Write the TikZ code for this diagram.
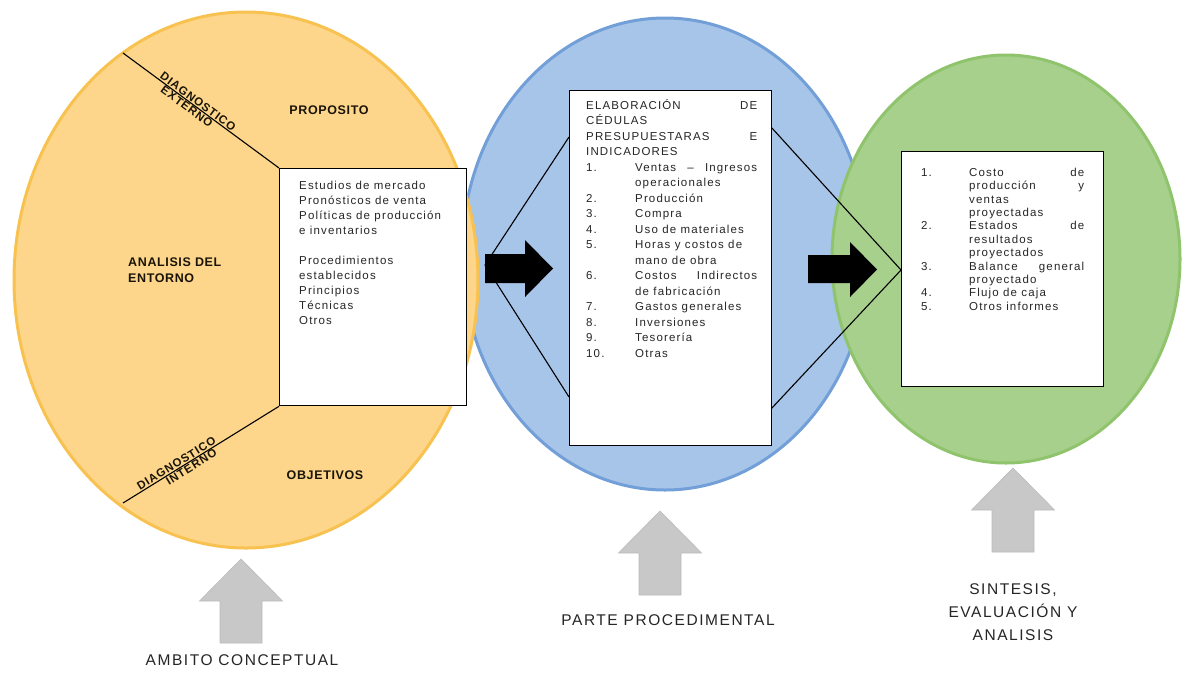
\documentclass[tikz,border=0pt]{standalone}
\usepackage{fontspec}
\setmainfont{Liberation Sans}
\newfontfamily\bodyfont[LetterSpace=10]{Liberation Sans}
\newfontfamily\labfont[LetterSpace=5]{Liberation Sans}
\newfontfamily\diagfont[LetterSpace=8]{Liberation Sans}
\newfontfamily\capfont[LetterSpace=10]{Liberation Sans}
\usetikzlibrary{shapes.geometric}

\definecolor{orfill}{HTML}{FDD68B}
\definecolor{oredge}{HTML}{F7C250}
\definecolor{blfill}{HTML}{A7C5E8}
\definecolor{bledge}{HTML}{729FD8}
\definecolor{grfill}{HTML}{A8D08D}
\definecolor{gredge}{HTML}{8FC46D}
\definecolor{arrgray}{HTML}{C8C8C8}
\definecolor{arredge}{HTML}{BBBBBB}
\definecolor{txt}{HTML}{262626}
\definecolor{labtxt}{HTML}{1A1408}

% item rows: number column + text column
\newcommand\blitem[2]{\makebox[49pt][l]{#1}\hbox to 122pt{#2\hfil}}
\newcommand\gritem[2]{\makebox[48pt][l]{#1}\hbox to 115pt{#2\hfil}}

\begin{document}
\begin{tikzpicture}[x=1pt,y=-1pt,
  blob/.style={ellipse, inner sep=0pt, line width=3pt},
  boxnode/.style={draw=black, fill=white, line width=1.3pt, inner sep=0pt, anchor=north west},
  bodytext/.style={anchor=north west, inner sep=0pt, align=left, text=txt,
    font=\bodyfont\fontsize{11.5}{15}\selectfont},
  boldlab/.style={inner sep=0pt, text=labtxt, font=\labfont\bfseries\fontsize{12.5}{16}\selectfont},
  diaglab/.style={inner sep=0.8pt, sloped, text=labtxt, font=\diagfont\bfseries\fontsize{11.5}{13}\selectfont},
  caplab/.style={inner sep=0pt, align=center, text=txt, font=\capfont\fontsize{15.5}{23}\selectfont},
  thinline/.style={draw=black, line width=1.1pt},
  darrow/.style={fill=black},
  uparr/.pic={\filldraw[fill=arrgray, draw=arredge, line width=0.6pt]
    (0,0) -- (41.5,42) -- (21,42) -- (21,84) -- (-21,84) -- (-21,42) -- (-41.5,42) -- cycle;}
]
\useasboundingbox (0,0) rectangle (1182,673);
\fill[white] (0,0) rectangle (1182,673);

% the three stages
\node[blob, fill=blfill, draw=bledge, minimum width=406pt, minimum height=472pt] (stage2) at (665,254) {};
\node[blob, fill=orfill, draw=oredge, minimum width=464pt, minimum height=536pt] (stage1) at (246,280) {};
\node[blob, fill=grfill, draw=gredge, minimum width=348pt, minimum height=408pt] (stage3) at (1006,259) {};

% chevron guides around the middle box
\coordinate (lt) at (569,137);
\coordinate (ltip) at (485,265);
\coordinate (lb) at (569,397);
\coordinate (rt) at (771,127);
\coordinate (rtip) at (901,270);
\coordinate (rb) at (771,409);
\draw[thinline] (lt) -- (ltip) -- (lb);
\draw[thinline] (rt) -- (rtip) -- (rb);

% boxes
\node[boxnode, minimum width=187pt, minimum height=237pt] (ob) at (279,168) {};
\node[boxnode, minimum width=202pt, minimum height=355pt] (bb) at (569,90) {};
\node[boxnode, minimum width=202pt, minimum height=235pt] (gb) at (901,151) {};

% diagnostic dividers
\coordinate (ulstart) at (123,53);
\coordinate (llend) at (123,503);
\draw[thinline] (ulstart) -- (ob.north west)
  node[diaglab, pos=0.46, above] (dx1) {DIAGNOSTICO}
  node[diaglab, pos=0.43, below] (dx2) {EXTERNO};
\draw[thinline] (ob.south west) -- (llend)
  node[diaglab, pos=0.64, above] (di1) {DIAGNOSTICO}
  node[diaglab, pos=0.58, below] (di2) {INTERNO};

% labels of the first stage
\node[boldlab] (prop) at (329,110) {PROPOSITO};
\node[boldlab] (obj) at (325,475) {OBJETIVOS};
\node[boldlab, anchor=west, align=left] (ana) at (128,270) {ANALISIS DEL\\ENTORNO};

% box contents
\node[bodytext] (obtext) at (299,177) {\rule{0pt}{12pt}Estudios de mercado\\
Pronósticos de venta\\
Políticas de producción\\
e inventarios\\[15pt]
Procedimientos\\
establecidos\\
Principios\\
Técnicas\\
Otros};

\node[bodytext, font=\bodyfont\fontsize{11.5}{15.5}\selectfont] (bbtext) at (586,97) {\rule{0pt}{12pt}\hbox to 171pt{ELABORACIÓN\hfill DE}\\
CÉDULAS\\
\hbox to 171pt{PRESUPUESTARAS\hfill E}\\
INDICADORES\\
\blitem{1.}{Ventas\hfill –\hfill Ingresos}\\
\blitem{}{operacionales}\\
\blitem{2.}{Producción}\\
\blitem{3.}{Compra}\\
\blitem{4.}{Uso de materiales}\\
\blitem{5.}{Horas y costos de}\\
\blitem{}{mano de obra}\\
\blitem{6.}{Costos\hfill Indirectos}\\
\blitem{}{de fabricación}\\
\blitem{7.}{Gastos generales}\\
\blitem{8.}{Inversiones}\\
\blitem{9.}{Tesorería}\\
\blitem{10.}{Otras}};

\node[bodytext, font=\bodyfont\fontsize{11.5}{13.4}\selectfont] (gbtext) at (921,164) {\rule{0pt}{12pt}\gritem{1.}{Costo\hfill de}\\
\gritem{}{producción\hfill y}\\
\gritem{}{ventas}\\
\gritem{}{proyectadas}\\
\gritem{2.}{Estados\hfill de}\\
\gritem{}{resultados}\\
\gritem{}{proyectados}\\
\gritem{3.}{Balance\hfill general}\\
\gritem{}{proyectado}\\
\gritem{4.}{Flujo de caja}\\
\gritem{5.}{Otros informes}};

% flow arrows between stages
\fill[darrow] (485,254) -- (525,254) -- (525,240) -- (553,268.5) -- (525,297) -- (525,283) -- (485,283) -- cycle;
\fill[darrow] (808,255) -- (850,255) -- (850,242) -- (877,269.5) -- (850,297) -- (850,283) -- (808,283) -- cycle;

% supporting arrows and captions
\pic at (241,559) {uparr};
\pic at (660,511) {uparr};
\pic at (1013,468) {uparr};
\node[caplab] (cap1) at (242,660) {AMBITO CONCEPTUAL};
\node[caplab] (cap2) at (668,620) {PARTE PROCEDIMENTAL};
\node[caplab] (cap3) at (1013,612) {SINTESIS,\\EVALUACIÓN Y\\ANALISIS};
\end{tikzpicture}
\end{document}
